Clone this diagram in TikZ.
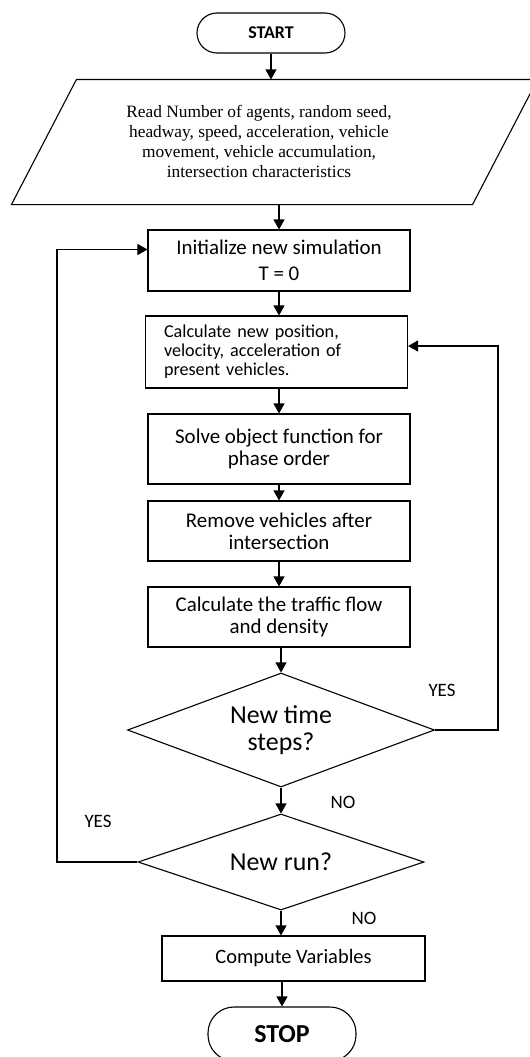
\documentclass[tikz,border=0pt]{standalone}
\usepackage{fontspec}
\setmainfont{Liberation Serif}
\setsansfont{Carlito}
\usetikzlibrary{shapes.geometric, arrows.meta, positioning, calc}

\begin{document}
\begin{tikzpicture}[x=1bp, y=-1bp, line width=1.1bp,
    arr/.style={-{Triangle[length=10bp,width=11bp]}},
    terminal/.style={draw, rectangle, rounded corners=20bp, minimum width=148bp, font=\sffamily\bfseries\fontsize{18}{21}\selectfont},
    procbox/.style={draw, rectangle, minimum width=262bp, align=center, font=\sffamily\fontsize{21}{22}\selectfont},
    decision/.style={draw, diamond, aspect=2.7, inner sep=0pt, align=center, font=\sffamily\fontsize{26}{27}\selectfont},
    answer/.style={font=\sffamily\fontsize{19}{21}\selectfont}]
    \useasboundingbox (0,0) rectangle (530,1057);
    \node[terminal, minimum height=40bp] (start) at (271,33) {START};
    \node[minimum width=460bp, minimum height=124bp, inner sep=0pt, align=center, font=\fontsize{17.4}{20}\selectfont] (input) at (259,142)
        {\\[-8bp] Read Number of agents, random seed,\\ headway, speed, acceleration, vehicle\\ movement, vehicle accumulation,\\ intersection characteristics};
    \draw ($(input.north west)+(48,0)$) -- ($(input.north east)+(48,0)$) -- ($(input.south east)-(17,0)$) -- ($(input.south west)-(17,0)$) -- cycle;
    \node[procbox, minimum height=61bp, font=\sffamily\fontsize{21}{26}\selectfont] (init) at (279,260.5) {Initialize new simulation\\ T = 0};
    \node[procbox, minimum height=72bp, text width=225bp, inner xsep=18bp, align=left, font=\sffamily\fontsize{18.2}{19}\selectfont] (update) at (276.5,352)
        {Calculate new position,\\ velocity, acceleration of\\ present vehicles.};
    \node[procbox, minimum height=70bp] (solve) at (279,449) {Solve object function for\\ phase order};
    \node[procbox, minimum height=60bp] (remove) at (279,531) {Remove vehicles after\\ intersection};
    \node[procbox, minimum height=60bp] (traffic) at (279,617) {Calculate the traffic flow\\ and density};
    \node[decision, minimum width=307bp, minimum height=114bp] (steps) at (281,730) {New time\\ steps?};
    \node[decision, minimum width=286bp, minimum height=96bp] (run) at (281,862) {New run?};
    \node[procbox, minimum width=263bp, minimum height=45bp, font=\sffamily\fontsize{20.5}{22}\selectfont] (compute) at (293.5,958.5) {Compute Variables};
    \node[terminal, minimum height=54bp, rounded corners=26bp, font=\sffamily\bfseries\fontsize{26}{28}\selectfont] (stop) at (282,1034) {STOP};
    \node[answer] (yes1) at (442,690) {YES};
    \node[answer] (no1) at (343,802) {NO};
    \node[answer] (yes2) at (98,821) {YES};
    \node[answer] (no2) at (364,918) {NO};
    \coordinate (rloop) at (498,0);
    \coordinate (lloop) at (57,0);
    \draw[arr] (start.south) -- (start.south |- input.north);
    \draw[arr] (init.north |- input.south) -- (init.north);
    \draw[arr] (init.south) -- (init.south |- update.north);
    \draw[arr] (solve.north |- update.south) -- (solve.north);
    \draw[arr] (solve.south) -- (remove.north);
    \draw[arr] (remove.south) -- (traffic.north);
    \draw[arr] (steps.north |- traffic.south) -- (steps.north);
    \draw[arr] (steps.south) -- (run.north);
    \draw[arr] (run.south) -- (run.south |- compute.north);
    \draw[arr] (stop.north |- compute.south) -- (stop.north);
    \draw[arr] (steps.east) -- (steps.east -| rloop) -- ([yshift=6bp]update.east -| rloop) -- ([yshift=6bp]update.east);
    \draw[arr] (run.west) -- (run.west -| lloop) -- ([yshift=11bp]init.west -| lloop) -- ([yshift=11bp]init.west);
\end{tikzpicture}
\end{document}
